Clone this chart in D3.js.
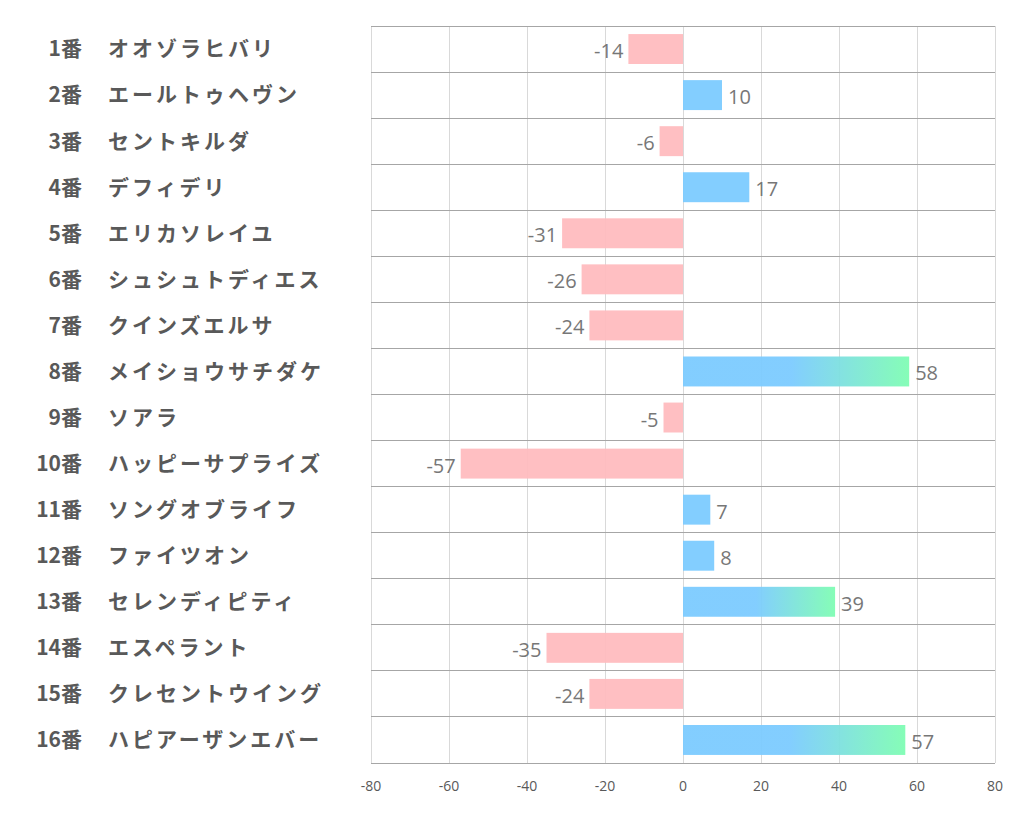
<!DOCTYPE html>
<html><head><meta charset="utf-8">
<script src="https://cdn.jsdelivr.net/npm/d3@7"></script>
<style>body{margin:0;background:#fff;} svg{display:block;}</style>
</head><body>
<script>
const numbers = ["1番","2番","3番","4番","5番","6番","7番","8番","9番","10番","11番","12番","13番","14番","15番","16番"];
const names = ["オオゾラヒバリ","エールトゥヘヴン","セントキルダ","デフィデリ","エリカソレイユ","シュシュトディエス","クインズエルサ","メイショウサチダケ","ソアラ","ハッピーサプライズ","ソングオブライフ","ファイツオン","セレンディピティ","エスペラント","クレセントウイング","ハピアーザンエバー"];
const values = [-14,10,-6,17,-31,-26,-24,58,-5,-57,7,8,39,-35,-24,57];
const xTicks = [-80,-60,-40,-20,0,20,40,60,80];

const W=1022,H=834;
const m={left:371,right:995,top:26,bottom:763};
const svg=d3.select("body").append("svg").attr("width",W).attr("height",H);
const x=d3.scaleLinear().domain([-80,80]).range([m.left,m.right]);
const y=d3.scaleBand().domain(d3.range(values.length)).range([m.top,m.bottom]).paddingInner(0.35).paddingOuter(0.175);
const rowH=(m.bottom-m.top)/values.length;

const defs=svg.append("defs");
const grad=defs.append("linearGradient").attr("id","g").attr("x1","0").attr("x2","1").attr("y1","0").attr("y2","0");
grad.append("stop").attr("offset","0.48").attr("stop-color","#7ccbff");
grad.append("stop").attr("offset","1").attr("stop-color","#7ffdb3");

// vertical grid
svg.append("g").selectAll("line").data(xTicks).join("line")
 .attr("x1",d=>x(d)).attr("x2",d=>x(d)).attr("y1",m.top).attr("y2",m.bottom)
 .attr("stroke","#d9d9d9").attr("stroke-width",1).attr("shape-rendering","crispEdges");
// horizontal grid
svg.append("g").selectAll("line").data(d3.range(values.length+1)).join("line")
 .attr("x1",m.left).attr("x2",m.right).attr("y1",d=>m.top+d*rowH).attr("y2",d=>m.top+d*rowH)
 .attr("stroke","#a6a6a6").attr("stroke-width",1).attr("shape-rendering","crispEdges");

// bars
svg.append("g").selectAll("rect").data(values).join("rect")
 .attr("x",d=>x(Math.min(0,d))).attr("width",d=>Math.abs(x(d)-x(0)))
 .attr("y",(d,i)=>y(i)).attr("height",y.bandwidth())
 .attr("fill",d=>d<0?"#ffbcbf":(d>=30?"url(#g)":"#7ccbff"))
 .attr("fill-opacity",0.95);

// value labels
svg.append("g").selectAll("text").data(values).join("text")
 .attr("x",d=>d<0?x(d)-5:x(d)+6)
 .attr("y",(d,i)=>y(i)+y.bandwidth()/2+2)
 .attr("dy","0.35em")
 .attr("text-anchor",d=>d<0?"end":"start")
 .attr("font-family","'Open Sans','Noto Sans',sans-serif")
 .attr("font-size",20).attr("fill","#777")
 .text(d=>d);

// axis tick labels
svg.append("g").selectAll("text").data(xTicks).join("text")
 .attr("x",d=>x(d)).attr("y",791)
 .attr("text-anchor","middle")
 .attr("font-family","'Open Sans','Noto Sans',sans-serif")
 .attr("font-size",14).attr("fill","#595959")
 .text(d=>d);

// category labels
const lab=svg.append("g");
lab.selectAll("text.num").data(numbers).join("text").attr("class","num")
 .attr("x",82).attr("y",(d,i)=>m.top+(i+0.5)*rowH).attr("dy","0.35em")
 .attr("text-anchor","end")
 .attr("font-family","'Noto Sans CJK JP',sans-serif").attr("font-weight","bold")
 .attr("font-size",21).attr("fill","#595959").text(d=>d);
lab.selectAll("text.nm").data(names).join("text").attr("class","nm")
 .attr("x",108).attr("y",(d,i)=>m.top+(i+0.5)*rowH).attr("dy","0.35em")
 .attr("text-anchor","start")
 .attr("letter-spacing",3)
 .attr("font-family","'Noto Sans CJK JP',sans-serif").attr("font-weight","bold")
 .attr("font-size",21).attr("fill","#595959").text(d=>d);
</script>
</body></html>
